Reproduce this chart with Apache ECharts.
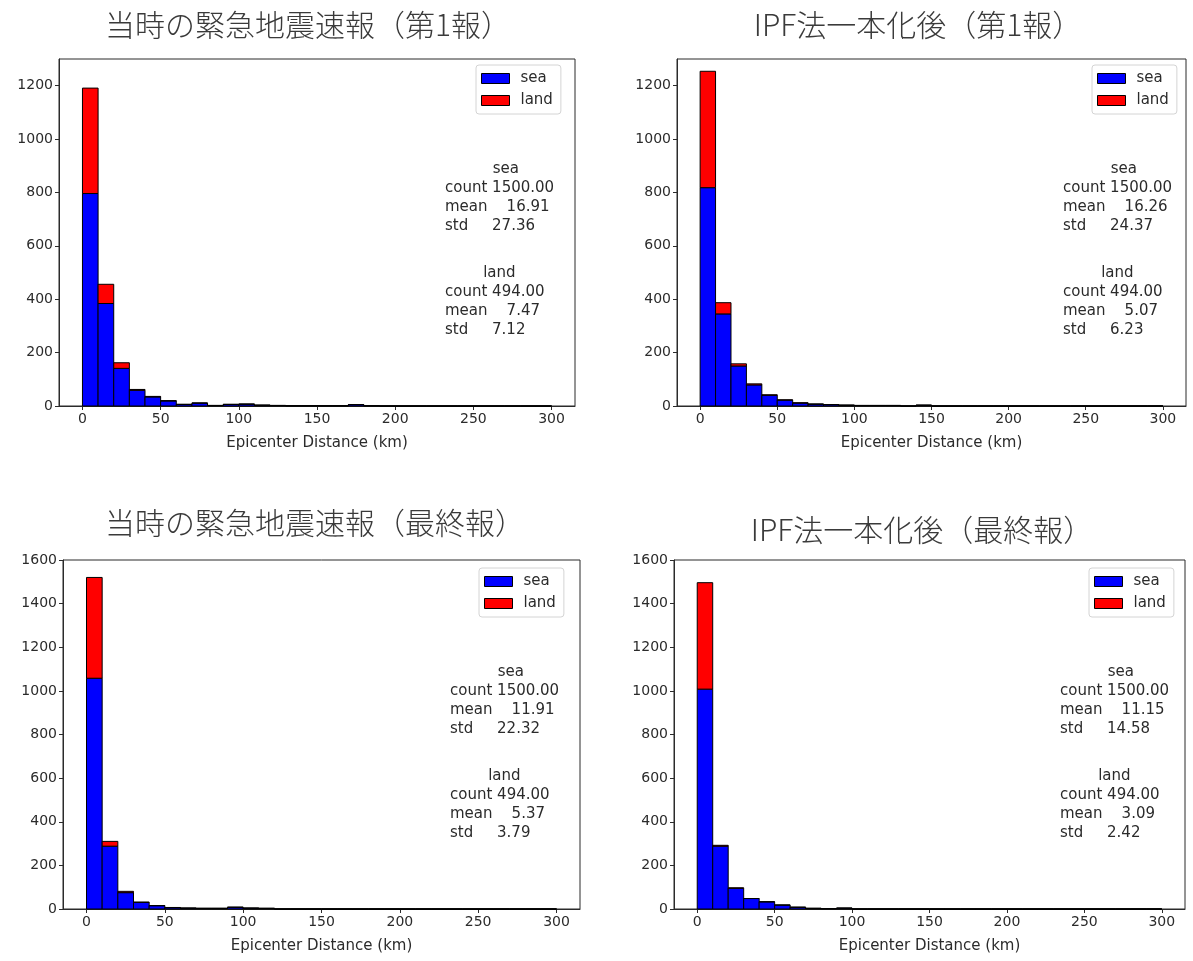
<!DOCTYPE html>
<html>
<head>
<meta charset="utf-8">
<script src="https://cdn.jsdelivr.net/npm/echarts@6/dist/echarts.min.js"></script>
<style>
  html, body { margin: 0; padding: 0; background: #fff; }
  #chart { width: 1193px; height: 961px; }
</style>
</head>
<body>
<div id="chart"></div>
<script>
// Histogram bins: 30 bins of 10 km between 0 and 300 km
const BIN_WIDTH = 10;

// Tick labels
const xTicks = [0, 50, 100, 150, 200, 250, 300];
const yTicksFirst = [0, 200, 400, 600, 800, 1000, 1200];
const yTicksFinal = [0, 200, 400, 600, 800, 1000, 1200, 1400, 1600];

// Panel titles
const titles = [
  '当時の緊急地震速報（第1報）',
  'IPF法一本化後（第1報）',
  '当時の緊急地震速報（最終報）',
  'IPF法一本化後（最終報）'
];

// Counts per 10 km bin (sea and land events, stacked)
const seaCurrentFirst = [796, 384, 141, 59, 34, 19, 6, 11, 2, 6, 7, 3, 2, 1, 1, 1, 1, 5, 1, 0, 0, 0, 0, 0, 0, 0, 0, 0, 0, 0];
const landCurrentFirst = [395, 72, 21, 3, 2, 1, 0, 0, 0, 0, 0, 0, 0, 0, 0, 0, 0, 0, 0, 0, 0, 0, 0, 0, 0, 0, 0, 0, 0, 0];

const seaIpfFirst = [818, 345, 150, 79, 40, 22, 11, 7, 5, 3, 2, 2, 2, 0, 3, 0, 0, 0, 0, 0, 0, 0, 0, 0, 0, 0, 0, 0, 0, 0];
const landIpfFirst = [436, 42, 8, 4, 2, 1, 1, 0, 0, 0, 0, 0, 0, 0, 0, 0, 0, 0, 0, 0, 0, 0, 0, 0, 0, 0, 0, 0, 0, 0];

const seaCurrentFinal = [1058, 288, 75, 30, 15, 6, 4, 3, 3, 8, 4, 3, 0, 0, 0, 0, 0, 0, 0, 0, 0, 0, 0, 0, 0, 0, 0, 0, 0, 0];
const landCurrentFinal = [462, 22, 6, 2, 1, 1, 0, 0, 0, 0, 0, 0, 0, 0, 0, 0, 0, 0, 0, 0, 0, 0, 0, 0, 0, 0, 0, 0, 0, 0];

const seaIpfFinal = [1008, 288, 95, 48, 33, 18, 8, 3, 2, 4, 0, 0, 0, 0, 0, 0, 0, 0, 0, 0, 0, 0, 0, 0, 0, 0, 0, 0, 0, 0];
const landIpfFinal = [488, 4, 2, 0, 0, 0, 0, 0, 0, 0, 0, 0, 0, 0, 0, 0, 0, 0, 0, 0, 0, 0, 0, 0, 0, 0, 0, 0, 0, 0];

// Summary statistics: [count, mean, std]
const seaStats = [
  [1500.00, 16.91, 27.36],
  [1500.00, 16.26, 24.37],
  [1500.00, 11.91, 22.32],
  [1500.00, 11.15, 14.58]
];
const landStats = [
  [494.00, 7.47, 7.12],
  [494.00, 5.07, 6.23],
  [494.00, 5.37, 3.79],
  [494.00, 3.09, 2.42]
];

const seaSeries = [seaCurrentFirst, seaIpfFirst, seaCurrentFinal, seaIpfFinal];
const landSeries = [landCurrentFirst, landIpfFirst, landCurrentFinal, landIpfFinal];

// Placement of each panel on the page
const panels = [
  { grid: { left: 59, top: 59, width: 516, height: 347 }, yMax: 1300, yTicks: yTicksFirst,
    title: { x: 308, y: 10 }, legend: { left: 476, top: 65 }, stats: { x: 445, seaY: 160, landY: 264 } },
  { grid: { left: 677, top: 59, width: 509, height: 347 }, yMax: 1300, yTicks: yTicksFirst,
    title: { x: 918, y: 10 }, legend: { left: 1092, top: 65 }, stats: { x: 1063, seaY: 160, landY: 264 } },
  { grid: { left: 63, top: 560, width: 517, height: 349 }, yMax: 1600, yTicks: yTicksFinal,
    title: { x: 315, y: 508 }, legend: { left: 479, top: 568 }, stats: { x: 450, seaY: 663, landY: 767 } },
  { grid: { left: 674, top: 560, width: 511, height: 349 }, yMax: 1600, yTicks: yTicksFinal,
    title: { x: 922, y: 515 }, legend: { left: 1089, top: 568 }, stats: { x: 1060, seaY: 663, landY: 767 } }
];

const SEA_COLOR = '#0000ff';
const LAND_COLOR = '#ff0000';
const INK = '#2b2b2b';
const FONT = 'DejaVu Sans';

// Rectangles [binStart, binEnd, bottom, top] for a stacked layer
function stackedBins(values, base) {
  return values.map(function (v, i) {
    const b = base ? base[i] : 0;
    return [i * BIN_WIDTH, (i + 1) * BIN_WIDTH, b, b + v];
  });
}

function renderBin(params, api) {
  const p0 = api.coord([api.value(0), api.value(2)]);
  const p1 = api.coord([api.value(1), api.value(3)]);
  return {
    type: 'rect',
    shape: { x: p0[0], y: p1[1], width: p1[0] - p0[0], height: p0[1] - p1[1] },
    style: api.style({ lineWidth: 1, stroke: '#000' })
  };
}

// Text block formatted as a right-aligned table (header over the value column)
function statsText(name, stats) {
  const rows = [
    ['count', stats[0].toFixed(2)],
    ['mean', stats[1].toFixed(2)],
    ['std', stats[2].toFixed(2)]
  ];
  const width = Math.max.apply(null, rows.map(function (r) { return r[0].length + 1 + r[1].length; }));
  const lines = [name.padStart(width, ' ')];
  rows.forEach(function (r) {
    lines.push(r[0] + r[1].padStart(width - r[0].length, ' '));
  });
  return lines.join('\n');
}

const plainNumber = function (v) { return String(v); };

const option = {
  backgroundColor: '#fff',
  animation: false,
  title: [],
  legend: [],
  grid: [],
  xAxis: [],
  yAxis: [],
  series: [],
  graphic: []
};

panels.forEach(function (p, k) {
  option.title.push({
    text: titles[k],
    left: p.title.x,
    top: p.title.y,
    textAlign: 'center',
    padding: 0,
    textStyle: { fontFamily: 'Noto Sans CJK JP', fontSize: 30, fontWeight: 300, color: '#3a3a3a' }
  });

  option.grid.push(Object.assign({ show: true, borderColor: INK, borderWidth: 1, containLabel: false }, p.grid));

  option.xAxis.push({
    type: 'value', gridIndex: k, min: -15, max: 315,
    name: 'Epicenter Distance (km)', nameLocation: 'middle', nameGap: 30,
    nameTextStyle: { fontFamily: FONT, fontSize: 15, color: INK },
    axisLine: { show: true, onZero: false, lineStyle: { color: INK, width: 1 } },
    axisTick: { show: true, inside: false, length: 4, customValues: xTicks, lineStyle: { color: INK } },
    axisLabel: { customValues: xTicks, margin: 6, fontFamily: FONT, fontSize: 14, color: INK, formatter: plainNumber },
    splitLine: { show: false }
  });

  option.yAxis.push({
    type: 'value', gridIndex: k, min: 0, max: p.yMax,
    axisLine: { show: true, onZero: false, lineStyle: { color: INK, width: 1 } },
    axisTick: { show: true, inside: false, length: 4, customValues: p.yTicks, lineStyle: { color: INK } },
    axisLabel: { customValues: p.yTicks, margin: 6, fontFamily: FONT, fontSize: 14, color: INK, formatter: plainNumber },
    splitLine: { show: false }
  });

  option.series.push({
    name: 'sea', type: 'custom', xAxisIndex: k, yAxisIndex: k,
    renderItem: renderBin,
    itemStyle: { color: SEA_COLOR, borderColor: '#000', borderWidth: 1 },
    encode: { x: [0, 1], y: [2, 3] },
    data: stackedBins(seaSeries[k], null)
  });
  option.series.push({
    name: 'land', type: 'custom', xAxisIndex: k, yAxisIndex: k,
    renderItem: renderBin,
    itemStyle: { color: LAND_COLOR, borderColor: '#000', borderWidth: 1 },
    encode: { x: [0, 1], y: [2, 3] },
    data: stackedBins(landSeries[k], seaSeries[k])
  });

  option.legend.push({
    orient: 'vertical',
    left: p.legend.left, top: p.legend.top,
    padding: [6, 8, 6, 5],
    itemWidth: 28, itemHeight: 10, itemGap: 7,
    backgroundColor: 'rgba(255,255,255,0.8)',
    borderColor: '#d4d4d4', borderWidth: 1, borderRadius: 3,
    selectedMode: false,
    textStyle: { fontFamily: FONT, fontSize: 15, color: INK, padding: [0, 0, 0, 6] },
    data: [
      { name: 'sea', icon: 'rect', itemStyle: { color: SEA_COLOR, borderColor: '#000', borderWidth: 1 } },
      { name: 'land', icon: 'rect', itemStyle: { color: LAND_COLOR, borderColor: '#000', borderWidth: 1 } }
    ]
  });

  option.graphic.push({
    type: 'text', x: p.stats.x, y: p.stats.seaY, silent: true,
    style: { text: statsText('sea', seaStats[k]), font: '15px "' + FONT + '"', fill: INK,
             lineHeight: 19, textAlign: 'left', textVerticalAlign: 'top' }
  });
  option.graphic.push({
    type: 'text', x: p.stats.x, y: p.stats.landY, silent: true,
    style: { text: statsText('land', landStats[k]), font: '15px "' + FONT + '"', fill: INK,
             lineHeight: 19, textAlign: 'left', textVerticalAlign: 'top' }
  });
});

const chart = echarts.init(document.getElementById('chart'), null, { renderer: 'canvas' });
chart.setOption(option);
</script>
</body>
</html>
